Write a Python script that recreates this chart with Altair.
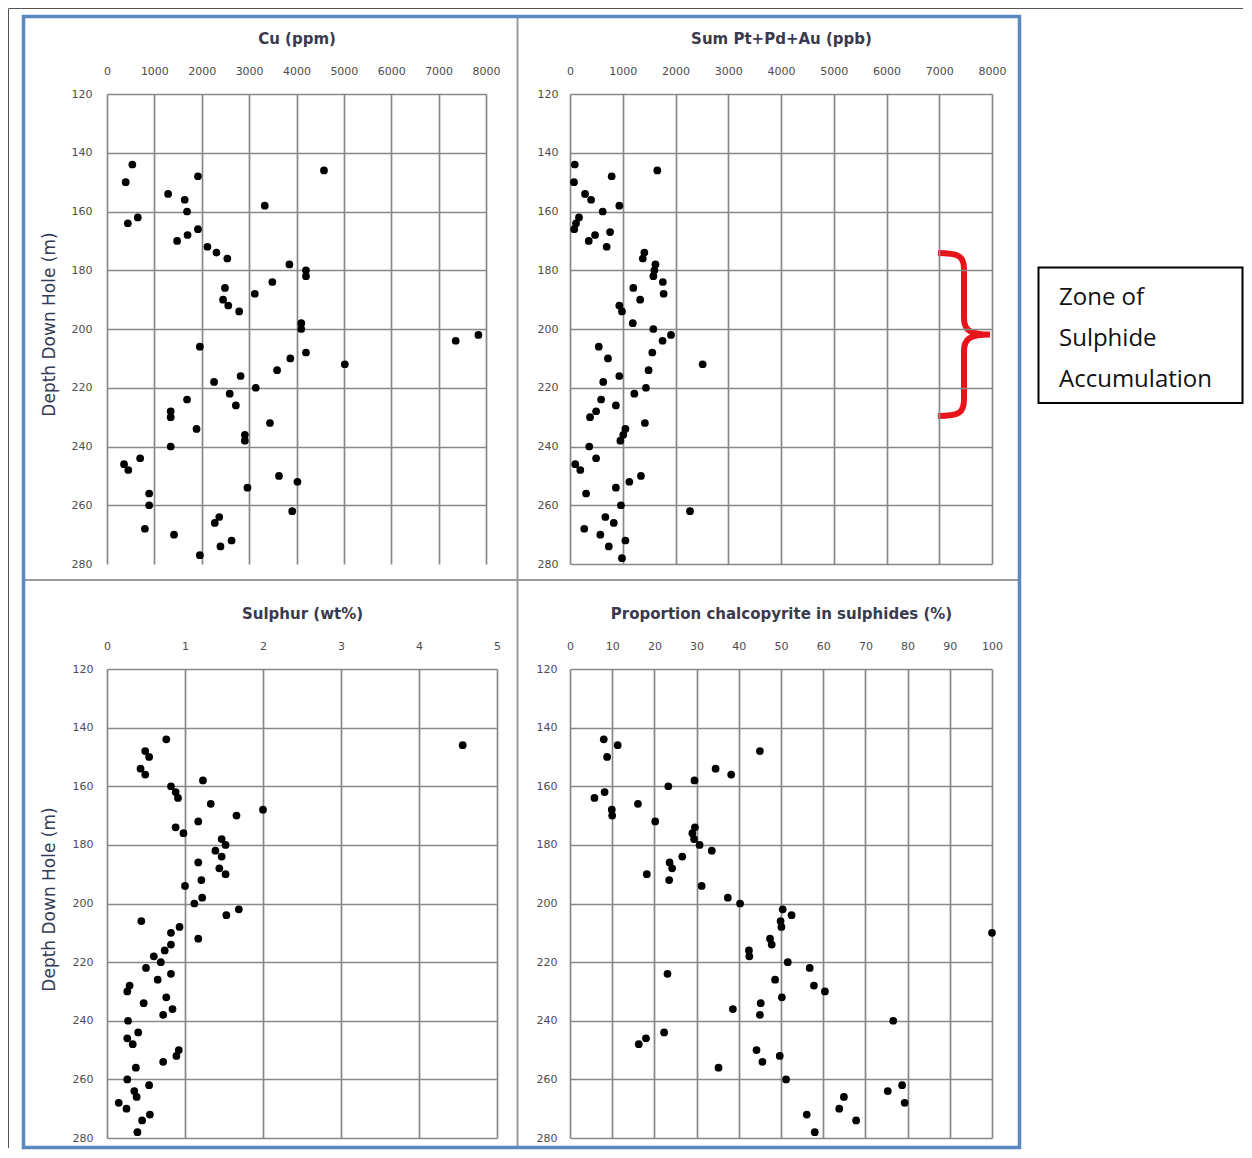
import altair as alt
import pandas as pd

# ---------------- data ----------------
cu_depth = [144, 146, 148, 150, 154, 156, 158, 160, 162, 164, 166, 168, 170, 172, 174, 176,
            178, 180, 182, 184, 186, 188, 190, 192, 194, 198, 200, 202, 204, 206, 208, 210,
            212, 214, 216, 218, 220, 222, 224, 226, 228, 230, 232, 234, 236, 238, 240, 244,
            246, 248, 250, 252, 254, 256, 260, 262, 264, 266, 268, 270, 272, 274, 277]
cu_ppm = [535, 4580, 1920, 394, 1290, 1640, 3330, 1690, 650, 440, 1920, 1700, 1480, 2120, 2310, 2540,
          3850, 4200, 4200, 3490, 2490, 3120, 2450, 2560, 2790, 4100, 4100, 7840, 7360, 1960, 4200, 3870,
          5020, 3590, 2820, 2260, 3140, 2590, 1690, 2720, 1345, 1345, 3440, 1890, 2910, 2910, 1345, 700,
          360, 450, 3630, 4020, 2965, 890, 890, 3910, 2370, 2275, 800, 1415, 2630, 2395, 1960]

pge_depth = [144, 146, 148, 150, 154, 156, 158, 160, 162, 164, 166, 167, 168, 170, 172, 174,
             176, 178, 180, 182, 184, 186, 188, 190, 192, 194, 198, 200, 202, 204, 206, 208,
             210, 212, 214, 216, 218, 220, 222, 224, 226, 228, 230, 232, 234, 236, 238, 240,
             244, 246, 248, 250, 252, 254, 256, 260, 262, 264, 266, 268, 270, 272, 274, 278]
pge_ppb = [90, 1655, 790, 75, 285, 400, 935, 620, 170, 115, 80, 760, 475, 355, 695, 1410,
           1380, 1620, 1600, 1580, 1760, 1200, 1775, 1330, 935, 985, 1190, 1580, 1915, 1755, 545, 1560,
           720, 2515, 1490, 935, 630, 1440, 1220, 590, 870, 495, 380, 1420, 1050, 1010, 955, 365,
           495, 100, 195, 1345, 1125, 870, 305, 965, 2275, 670, 830, 270, 575, 1050, 735, 985]

s_depth = [144, 146, 148, 150, 154, 156, 158, 160, 162, 164, 166, 168, 170, 172, 174, 176,
           178, 180, 182, 184, 186, 188, 190, 192, 194, 198, 200, 202, 204, 206, 208, 210,
           212, 214, 216, 218, 220, 222, 224, 226, 228, 230, 232, 234, 236, 238, 240, 244,
           246, 248, 250, 252, 254, 256, 260, 262, 264, 266, 268, 270, 272, 274, 278]
s_wt = [0.76, 4.56, 0.49, 0.54, 0.43, 0.49, 1.23, 0.82, 0.88, 0.91, 1.33, 2.0, 1.66, 1.17, 0.88, 0.98,
        1.47, 1.52, 1.39, 1.47, 1.17, 1.44, 1.52, 1.21, 1.0, 1.22, 1.12, 1.69, 1.53, 0.44, 0.93, 0.82,
        1.17, 0.82, 0.74, 0.6, 0.69, 0.5, 0.82, 0.65, 0.29, 0.26, 0.76, 0.47, 0.84, 0.72, 0.27, 0.4,
        0.26, 0.33, 0.92, 0.89, 0.72, 0.37, 0.26, 0.54, 0.35, 0.38, 0.15, 0.25, 0.55, 0.45, 0.39]

ccp_depth = [144, 146, 148, 150, 154, 156, 158, 160, 162, 164, 166, 168, 170, 172, 174, 176,
             178, 180, 182, 184, 186, 188, 190, 192, 194, 198, 200, 202, 204, 206, 208, 210,
             212, 214, 216, 218, 220, 222, 224, 226, 228, 230, 232, 234, 236, 238, 240, 244,
             246, 248, 250, 252, 254, 256, 260, 262, 264, 266, 268, 270, 272, 274, 278]
ccp_pct = [8, 11.3, 45, 8.8, 34.5, 38.2, 29.5, 23.3, 8.2, 5.8, 16.1, 9.9, 10, 20.2, 29.6, 29,
           29.4, 30.7, 33.6, 26.6, 23.6, 24.2, 18.2, 23.5, 31.2, 37.4, 40.3, 50.4, 52.5, 49.9, 50.1, 100,
           47.4, 47.8, 42.4, 42.5, 51.6, 56.8, 23.1, 48.6, 57.8, 60.4, 50.2, 45.2, 38.6, 45, 76.6, 22.3,
           18, 16.3, 44.2, 49.7, 45.6, 35.2, 51.2, 78.7, 75.3, 64.9, 79.3, 63.8, 56.1, 67.8, 58]

depth_ticks = [120, 140, 160, 180, 200, 220, 240, 260, 280]
ppm_ticks = [0, 1000, 2000, 3000, 4000, 5000, 6000, 7000, 8000]
s_grid = [0, 0.5, 1, 1.5, 2, 2.5, 3, 3.5, 4, 4.5, 5]
pct_ticks = [0, 10, 20, 30, 40, 50, 60, 70, 80, 90, 100]

titles = ["Cu (ppm)", "Sum Pt+Pd+Au (ppb)", "Sulphur (wt%)", "Proportion chalcopyrite in sulphides (%)"]
y_title = "Depth Down Hole (m)"
note_lines = ["Zone of", "Sulphide", "Accumulation"]

# ---------------- styling ----------------
FONT = "DejaVu Sans"
GRID_C = "#888888"
LABEL_C = "#4d4d4d"
TITLE_C = "#3a3a4c"
YTITLE_C = "#333a55"
OX, OY = 107, 94  # page position of the first panel's plot area


def panel(depths, vals, xmax, xvals, w, h, title, ytitle, ylabpad, hide_last=False, label_expr=None):
    df = pd.DataFrame({"depth": depths, "value": vals})
    xaxis = dict(orient="top", values=xvals, format="d", title=title, titleY=-56,
                 titleBaseline="middle", titleFont=FONT, titleFontSize=15, titleFontWeight="bold",
                 titleColor=TITLE_C, labelFont=FONT, labelFontSize=11, labelColor=LABEL_C,
                 labelPadding=23, labelBaseline="middle", labelFlush=False, labelOverlap=False,
                 ticks=False, tickSize=0, domain=False, grid=True, gridColor=GRID_C, gridWidth=1.7)
    if label_expr:
        xaxis["labelExpr"] = label_expr
    yaxis = dict(values=depth_ticks, format="d", labelFont=FONT, labelFontSize=11,
                 labelColor=LABEL_C, labelPadding=ylabpad, labelFlush=False, labelOverlap=False,
                 ticks=False, tickSize=0, domain=False, grid=True, gridColor=GRID_C, gridWidth=1.7)
    if ytitle:
        yaxis.update(title=ytitle, titleX=-58, titleY=230, titleAngle=270, titleBaseline="middle",
                     titleAlign="center", titleFont=FONT, titleFontSize=17, titleFontWeight="normal",
                     titleColor=YTITLE_C)
    else:
        yaxis["title"] = None
    if hide_last:
        yaxis["gridOpacity"] = {"condition": {"test": "datum.value === 280", "value": 0}, "value": 1}
    return alt.Chart(df).mark_circle(size=60, color="black", opacity=1).encode(
        x=alt.X("value:Q", scale=alt.Scale(domain=[0, xmax], nice=False, zero=False),
                axis=alt.Axis(**xaxis)),
        y=alt.Y("depth:Q", scale=alt.Scale(domain=[120, 280], reverse=True, nice=False, zero=False),
                axis=alt.Axis(**yaxis)),
    ).properties(width=w, height=h)


one = alt.Data(values=[{"k": 1}])


def hrule(x1, x2, y, color, sw):
    return alt.Chart(one).mark_rule(color=color, strokeWidth=sw).encode(
        x=alt.value(x1 - OX), x2=alt.value(x2 - OX), y=alt.value(y - OY))


def vrule(x, y1, y2, color, sw):
    return alt.Chart(one).mark_rule(color=color, strokeWidth=sw).encode(
        x=alt.value(x - OX), y=alt.value(y1 - OY), y2=alt.value(y2 - OY))


def box(x1, x2, y1, y2, **kw):
    return alt.Chart(one).mark_rect(**kw).encode(
        x=alt.value(x1 - OX), x2=alt.value(x2 - OX), y=alt.value(y1 - OY), y2=alt.value(y2 - OY))


BRACE = ("M -0.32 -1 C -0.06 -1 0 -0.96 0 -0.8 L 0 -0.2 C 0 -0.05 0.08 0 0.32 0 "
         "C 0.08 0 0 0.05 0 0.2 L 0 0.8 C 0 0.96 -0.06 1 -0.32 1")

decor = [
    hrule(8.5, 1243, 8.5, "#555555", 1),
    vrule(8.5, 8.5, 1148, "#555555", 1),
    vrule(517.5, 18, 1146, "#9a9a9a", 2),
    hrule(25, 1018, 580, "#9a9a9a", 2),
    box(23.5, 1019.5, 16.5, 1147.5, fillOpacity=0, stroke="#5b88c0", strokeWidth=3.5),
    alt.Chart(one).mark_point(shape=BRACE, size=163 * 163, filled=False, color="#e8141c",
                              stroke="#e8141c", strokeWidth=6, opacity=1).encode(
        x=alt.value(964 - OX), y=alt.value(334.5 - OY)),
    box(1038.5, 1242.5, 267.5, 403, fill="white", stroke="black", strokeWidth=2),
]
for line, base in zip(note_lines, [305, 346, 387]):
    decor.append(
        alt.Chart(one).mark_text(align="left", baseline="alphabetic", font="Open Sans",
                                 fontSize=24, color="#111111", text=line).encode(
            x=alt.value(1059 - OX), y=alt.value(base - OY)))

p1 = panel(cu_depth, cu_ppm, 8000, ppm_ticks, 379, 470, titles[0], y_title, 15, hide_last=True)
p1 = alt.layer(p1, *decor).properties(width=379, height=470)
p2 = panel(pge_depth, pge_ppb, 8000, ppm_ticks, 422, 470, titles[1], None, 12)
p3 = panel(s_depth, s_wt, 5, s_grid, 390, 469, titles[2], y_title, 14,
           label_expr="datum.value % 1 === 0 ? '' + datum.value : ''")
p4 = panel(ccp_depth, ccp_pct, 100, pct_ticks, 422, 469, titles[3], None, 13)

chart = alt.concat(p1, p2, p3, p4, columns=2, spacing={"row": 105, "column": 73},
                   bounds="flush").properties(
    padding=0, background="white"
).configure_view(stroke=None)

chart.save("out.html", embed_options={"renderer": "svg", "actions": False})
